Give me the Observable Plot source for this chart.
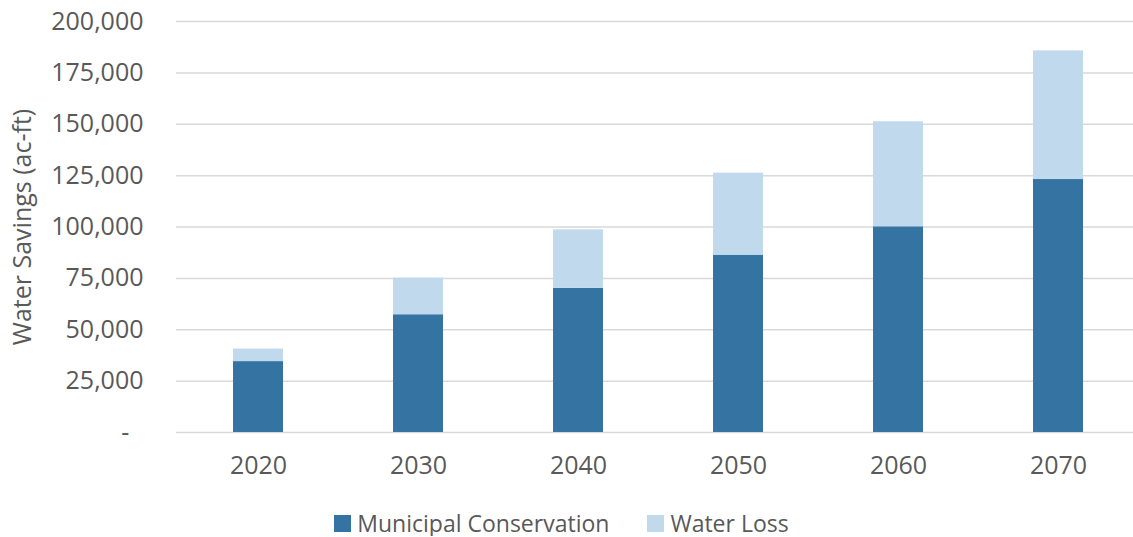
<!DOCTYPE html>
<html>
<head>
<meta charset="utf-8">
<script src="https://cdn.jsdelivr.net/npm/d3@7"></script>
<script src="https://cdn.jsdelivr.net/npm/@observablehq/plot@0.6"></script>
<style>
  body { margin: 0; background: #fff; font-family: "Open Sans", sans-serif; color: #595959; }
  #chart { width: 1133px; }
  .legend { display: flex; justify-content: center; gap: 38px; font-size: 23px; line-height: 26px; margin-top: 10px; padding-right: 10px; }
  .legend span.item { display: flex; align-items: center; white-space: nowrap; }
  .legend span.sw { display: inline-block; width: 17px; height: 17px; margin-right: 6px; }
</style>
</head>
<body>
<div id="chart"></div>
<script>
const years = ["2020", "2030", "2040", "2050", "2060", "2070"];
const seriesNames = ["Municipal Conservation", "Water Loss"];
const municipal = [34500, 57300, 70100, 86300, 100100, 123100];
const waterLoss = [6100, 17800, 28500, 39900, 51100, 62600];
const yTicks = [0, 25000, 50000, 75000, 100000, 125000, 150000, 175000, 200000];
const colors = ["#3573a3", "#c1d9ed"];
const yTitle = "Water Savings (ac-ft)";

const data = [];
years.forEach((yr, i) => {
  data.push({year: yr, series: seriesNames[0], value: municipal[i]});
  data.push({year: yr, series: seriesNames[1], value: waterLoss[i]});
});

const fmt = d3.format(",");
const chart = Plot.plot({
  width: 1133,
  height: 500,
  marginLeft: 176,
  marginRight: 0,
  marginTop: 21,
  marginBottom: 68,
  style: {fontFamily: "Open Sans", fontSize: "25px", color: "#595959", background: "#fff"},
  x: {domain: years, range: [176, 1140], paddingInner: 0.687, paddingOuter: 0.3435, label: null},
  y: {domain: [0, 200000], label: null},
  color: {domain: seriesNames, range: colors},
  marks: [
    Plot.ruleY(yTicks, {stroke: "#d9d9d9", strokeWidth: 1.5}),
    Plot.barY(data, {x: "year", y: "value", fill: "series", order: seriesNames}),
    Plot.axisY({ticks: yTicks, tickSize: 0, tickPadding: 33, tickFormat: d => d === 0 ? "-\u2007" : fmt(d), label: null}),
    Plot.axisX({tickSize: 0, tickPadding: 24, label: null}),
    Plot.text([yTitle], {frameAnchor: "left", textAnchor: "middle", rotate: -90, dx: -154, fontSize: 25, fill: "#595959"})
  ]
});
document.getElementById("chart").appendChild(chart);

const legend = document.createElement("div");
legend.className = "legend";
seriesNames.forEach((name, i) => {
  const item = document.createElement("span");
  item.className = "item";
  const sw = document.createElement("span");
  sw.className = "sw";
  sw.style.background = colors[i];
  item.appendChild(sw);
  item.appendChild(document.createTextNode(name));
  legend.appendChild(item);
});
document.body.appendChild(legend);
</script>
</body>
</html>
